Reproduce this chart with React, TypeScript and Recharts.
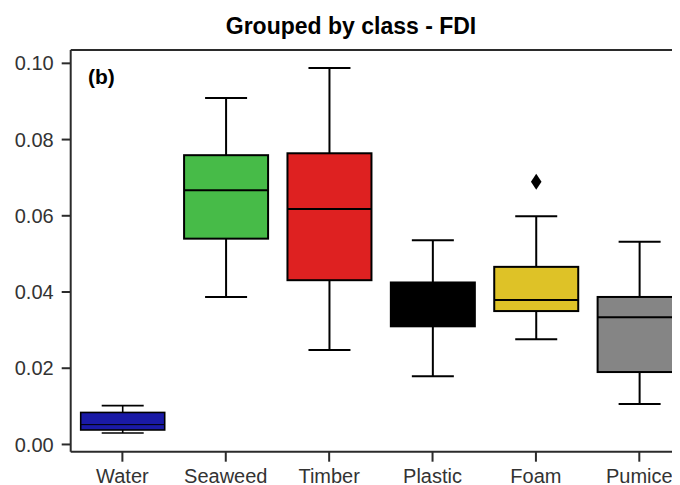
import React from "react";
import {
  ComposedChart,
  Bar,
  XAxis,
  YAxis,
  ReferenceLine,
} from "recharts";

// categories and box statistics (FDI by class)
const categories = ["Water", "Seaweed", "Timber", "Plastic", "Foam", "Pumice"];
const whiskerLow = [0.003, 0.0387, 0.0248, 0.0179, 0.0276, 0.0106];
const q1 = [0.0038, 0.054, 0.0431, 0.031, 0.035, 0.019];
const medians = [0.0052, 0.0667, 0.0618, 0.036, 0.0379, 0.0334];
const q3 = [0.0084, 0.0759, 0.0764, 0.0425, 0.0466, 0.0387];
const whiskerHigh = [0.0102, 0.0909, 0.0988, 0.0536, 0.0599, 0.0532];
const outliers = [null, null, null, null, 0.0689, null];
const boxColors = ["#1a1aa6", "#47bb48", "#de2121", "#000000", "#dec227", "#858585"];
const yTicks = [0, 0.02, 0.04, 0.06, 0.08, 0.1];

const Y_MIN = -0.0019;
const Y_MAX = 0.1035;

const data = categories.map((name, i) => ({
  name,
  low: whiskerLow[i],
  q1: q1[i],
  median: medians[i],
  q3: q3[i],
  high: whiskerHigh[i],
  outlier: outliers[i],
  color: boxColors[i],
}));

const BoxShape = (props: any) => {
  const { x, y, width, height, payload } = props;
  if (!payload || height == null) return null;
  const { low, high } = payload;
  // value -> pixel from the bar's own scaled extent (high at y, low at y + height)
  const toPx = (v: number) => y + ((high - v) / (high - low)) * height;
  const cx = x + width / 2;
  const cap = width / 2;
  const thin = payload.name === "Water";
  const sw = thin ? 1.6 : 2;
  const oy = payload.outlier != null ? toPx(payload.outlier) : null;
  return (
    <g>
      <line x1={cx} x2={cx} y1={toPx(high)} y2={toPx(payload.q3)} stroke="#000" strokeWidth={sw} />
      <line x1={cx} x2={cx} y1={toPx(payload.q1)} y2={toPx(low)} stroke="#000" strokeWidth={sw} />
      <line x1={cx - cap / 2} x2={cx + cap / 2} y1={toPx(high)} y2={toPx(high)} stroke="#000" strokeWidth={sw} />
      <line x1={cx - cap / 2} x2={cx + cap / 2} y1={toPx(low)} y2={toPx(low)} stroke="#000" strokeWidth={sw} />
      <rect
        x={x}
        y={toPx(payload.q3)}
        width={width}
        height={toPx(payload.q1) - toPx(payload.q3)}
        fill={payload.color}
        stroke="#000"
        strokeWidth={sw}
      />
      <line
        x1={x}
        x2={x + width}
        y1={toPx(payload.median)}
        y2={toPx(payload.median)}
        stroke="#000"
        strokeWidth={thin ? 1 : 2}
      />
      {oy != null && (
        <polygon
          points={`${cx},${oy - 8} ${cx + 5.3},${oy} ${cx},${oy + 8} ${cx - 5.3},${oy}`}
          fill="#000"
        />
      )}
    </g>
  );
};

const tickStyle = { fontSize: 20, fill: "#333", fontFamily: "Liberation Sans, Arial, sans-serif" };
const frameColor = "#2b2b2b";

export default function App() {
  return (
    <div style={{ position: "relative", width: 700, height: 477 }}>
      <style>{"html,body{overflow:hidden}"}</style>
      <div
        style={{
          position: "absolute",
          left: 343,
          top: 7,
          transform: "translateX(-50%)",
          fontFamily: "Liberation Sans, Arial, sans-serif",
          fontWeight: "bold",
          fontSize: 23,
          lineHeight: 1,
          whiteSpace: "nowrap",
          color: "#000",
        }}
      >
        Grouped by class - FDI
      </div>
      <div
        style={{
          position: "absolute",
          left: 80,
          top: 58,
          fontFamily: "Liberation Sans, Arial, sans-serif",
          fontWeight: "bold",
          fontSize: 21,
          lineHeight: 1,
          color: "#000",
          zIndex: 2,
        }}
      >
        (b)
      </div>
      <ComposedChart
        width={700}
        height={477}
        data={data}
        margin={{ top: 42, right: 17, bottom: 0, left: 0 }}
      >
        <XAxis
          dataKey="name"
          height={33.3}
          tickSize={10}
          tickMargin={7}
          tick={tickStyle}
          axisLine={{ stroke: frameColor, strokeWidth: 2 }}
          tickLine={{ stroke: frameColor, strokeWidth: 2 }}
          interval={0}
        />
        <YAxis
          type="number"
          domain={[Y_MIN, Y_MAX]}
          allowDataOverflow
          ticks={yTicks}
          tickFormatter={(v: number) => v.toFixed(2)}
          width={62.7}
          tickSize={9}
          tickMargin={8}
          tick={tickStyle}
          axisLine={{ stroke: frameColor, strokeWidth: 2 }}
          tickLine={{ stroke: frameColor, strokeWidth: 2 }}
        />
        <ReferenceLine y={Y_MAX} stroke={frameColor} strokeWidth={2} ifOverflow="visible" />
        <Bar
          dataKey={(d: any) => [d.low, d.high]}
          barSize={84}
          shape={BoxShape}
          isAnimationActive={false}
        />
      </ComposedChart>
    </div>
  );
}
